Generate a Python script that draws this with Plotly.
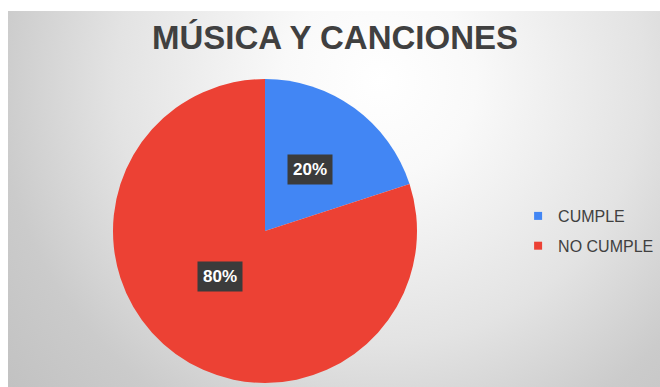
import math
import plotly.graph_objects as go

# ---- data ----
title_text = "MÚSICA Y CANCIONES"
labels = ["CUMPLE", "NO CUMPLE"]
values = [20, 80]
colors = ["#4286f4", "#ec4134"]

W, H = 660, 387
PAD_L, PAD_T = 8, 11
CX, CY, R = 265, 231, 152  # pie centre/radius in pixels (y down)

fig = go.Figure()

# background radial gradient (clipped to plot area)
gcx, gcy, gr = 380, 80, 480
fig.add_trace(go.Scatter(
    x=[gcx - gr, gcx + gr, gcx + gr, gcx - gr, gcx - gr],
    y=[gcy - gr, gcy - gr, gcy + gr, gcy + gr, gcy - gr],
    mode="lines", line=dict(width=0), fill="toself",
    fillgradient=dict(type="radial", colorscale=[
        [0, "#ffffff"], [0.2, "#f9f9f9"], [0.55, "#e3e3e3"], [0.8, "#cbcbcb"], [1, "#c2c2c2"]]),
    hoverinfo="skip", showlegend=False,
))

# pie
fig.add_trace(go.Pie(
    labels=labels, values=values, sort=False, direction="clockwise", rotation=0,
    marker=dict(colors=colors, line=dict(width=0)),
    textinfo="none", hoverinfo="label+percent", showlegend=False,
    domain=dict(x=[(CX - R) / W, (CX + R) / W], y=[(H - CY - R) / H, (H - CY + R) / H]),
))

# legend entries
for i, (lab, col) in enumerate(zip(labels, colors)):
    fig.add_trace(go.Scatter(
        x=[None], y=[None], mode="markers", name=lab, legendgroup=f"g{i}",
        marker=dict(symbol="square", size=8, color=col),
    ))

# percentage labels with dark boxes
total = sum(values)
cum = 0
annotations = []
for v in values:
    mid = (cum + v / 2) / total
    cum += v
    th = 2 * math.pi * mid
    px = CX + 0.5 * R * math.sin(th)
    py = CY - 0.5 * R * math.cos(th)
    annotations.append(dict(
        x=px / W, y=1 - py / H, xref="paper", yref="paper", showarrow=False,
        text=f"<b>{v / total:.0%}</b>",
        font=dict(family="Liberation Sans, Arial", size=17, color="white"),
        bgcolor="#3b3b3b", borderpad=5,
    ))

fig.update_layout(
    width=W, height=H, margin=dict(l=0, r=0, t=0, b=0),
    paper_bgcolor="white", plot_bgcolor="rgba(0,0,0,0)",
    xaxis=dict(domain=[PAD_L / W, 1], range=[PAD_L, W], visible=False, fixedrange=True),
    yaxis=dict(domain=[0, 1 - PAD_T / H], range=[H, PAD_T], visible=False, fixedrange=True),
    title=dict(text=f"<b>{title_text}</b>", x=335 / W, xanchor="center",
               y=1 - 37 / H, yanchor="middle",
               font=dict(family="Liberation Sans, Arial", size=33, color="#404040")),
    legend=dict(x=0.785, y=1 - 231 / H, xanchor="left", yanchor="middle",
                font=dict(family="Liberation Sans, Arial", size=16, color="#404040"),
                bgcolor="rgba(0,0,0,0)", tracegroupgap=6, itemwidth=30),
    annotations=annotations,
    showlegend=True,
)

fig.write_html("out.html")
